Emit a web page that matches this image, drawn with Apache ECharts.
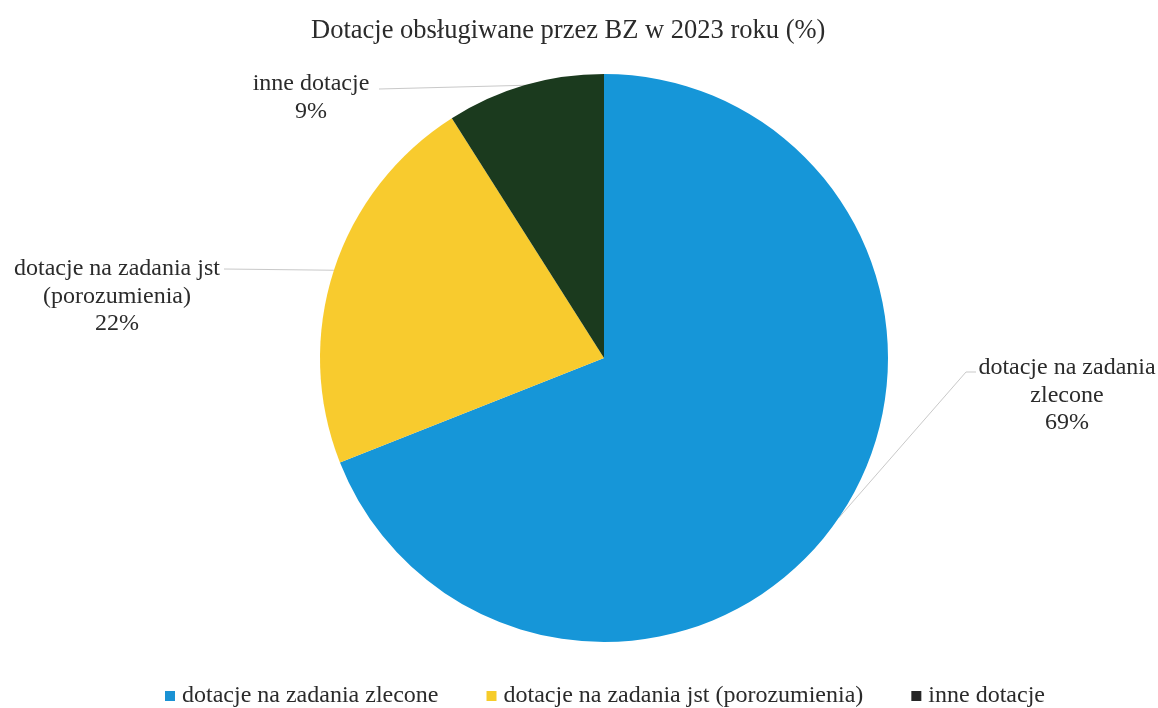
<!DOCTYPE html>
<html><head><meta charset="utf-8">
<script src="https://cdn.jsdelivr.net/npm/echarts@6/dist/echarts.min.js"></script>
<style>html,body{margin:0;padding:0;background:#fff}#c{width:1158px;height:708px}</style>
</head><body><div id="c"></div>
<script>
const chartTitle = 'Dotacje obsługiwane przez BZ w 2023 roku (%)';
const categories = ['dotacje na zadania zlecone', 'dotacje na zadania jst (porozumienia)', 'inne dotacje'];
const labelTexts = ['dotacje na zadania\nzlecone', 'dotacje na zadania jst\n(porozumienia)', 'inne dotacje'];
const values = [69, 22, 9];

const colors = ['#1696d8', '#f8cb2e', '#1b3a1e'];
const legendIconColors = ['#1a92d4', '#f6cc2a', '#262626'];
const FONT = "'Liberation Serif','Times New Roman',serif";
const CX = 604, CY = 358, R = 284;
// label anchors (center x, top y) and line start points - layout styling
const labelAnchor = [[1067, 354], [117, 255], [311, 70]];
const lineStart = [[[976, 372], [966, 372]], [[224, 269]], [[379, 89]]];

const total = values.reduce((a, b) => a + b, 0);
function midPoint(i) {
  let before = 0;
  for (let k = 0; k < i; k++) before += values[k];
  const a = (before + values[i] / 2) / total * 2 * Math.PI;
  return [CX + R * Math.sin(a), CY - R * Math.cos(a)];
}

const chart = echarts.init(document.getElementById('c'), null, {renderer: 'canvas'});
chart.setOption({
  animation: false,
  backgroundColor: '#ffffff',
  title: {
    text: chartTitle, left: 306, top: 13,
    textStyle: {fontFamily: FONT, fontSize: 26.5, fontWeight: 'normal', color: '#2b2b2b'}
  },
  legend: {
    top: 684, left: 165, itemGap: 48, itemWidth: 10, itemHeight: 10, icon: 'rect', padding: 0,
    textStyle: {fontFamily: FONT, fontSize: 24, color: '#2b2b2b', padding: [0, 0, 0, 2]},
    data: categories.map((n, i) => ({name: n, itemStyle: {color: legendIconColors[i]}}))
  },
  series: [{
    type: 'pie',
    center: [CX, CY],
    radius: R,
    startAngle: 90,
    clockwise: true,
    avoidLabelOverlap: false,
    data: categories.map((n, i) => ({name: n, value: values[i], itemStyle: {color: colors[i]}})),
    label: {
      show: true, position: 'outside',
      formatter: p => labelTexts[p.dataIndex] + '\n' + p.percent + '%',
      fontFamily: FONT, fontSize: 24, lineHeight: 27.5, color: '#2b2b2b', align: 'center'
    },
    labelLine: {show: true, lineStyle: {color: '#c9c9c9', width: 1}},
    labelLayout: function (p) {
      const i = p.dataIndex;
      const m = midPoint(i);
      const pts = lineStart[i].length === 2 ? lineStart[i].concat([m]) : [lineStart[i][0], lineStart[i][0], m];
      return {
        x: labelAnchor[i][0], y: labelAnchor[i][1], align: 'center', verticalAlign: 'top',
        labelLinePoints: pts
      };
    },
    emphasis: {disabled: true}
  }]
});
</script></body></html>
